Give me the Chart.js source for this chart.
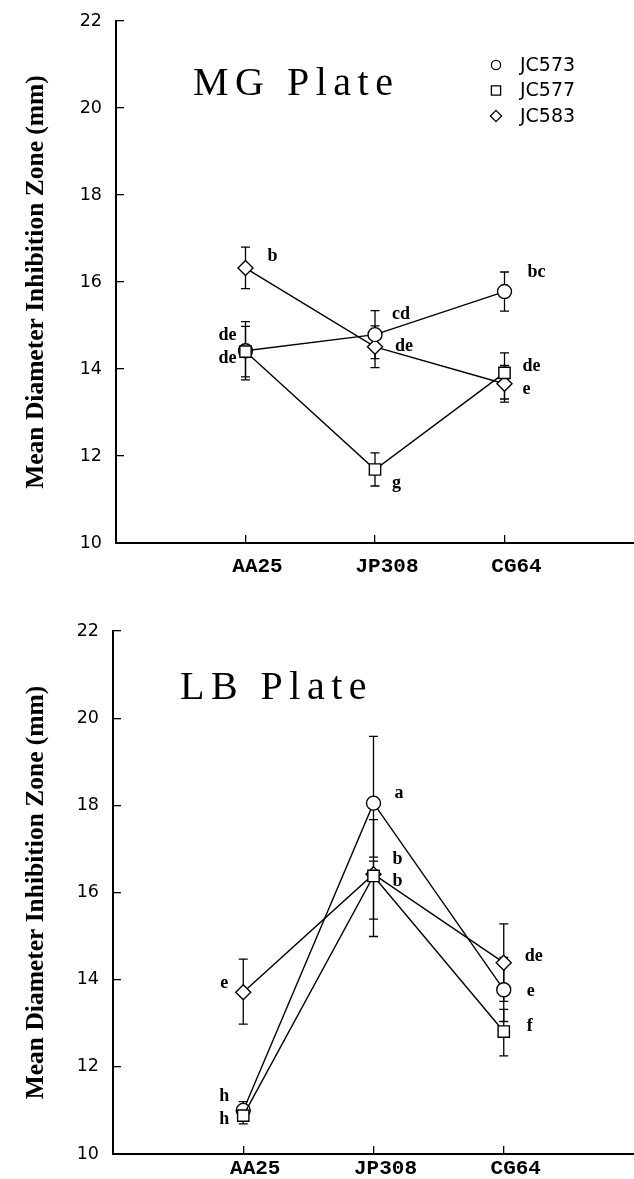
<!DOCTYPE html>
<html>
<head>
<meta charset="utf-8">
<script src="https://cdn.jsdelivr.net/npm/chart.js@4.4.1/dist/chart.umd.min.js"></script>
<style>
  html, body { margin: 0; padding: 0; background: #fff; overflow: hidden; }
  #wrap { position: relative; width: 634px; height: 1179px; overflow: hidden; }
  canvas { position: absolute; left: 0; display: block; }
  #mgChart { top: 0; }
  #lbChart { top: 590px; }
</style>
</head>
<body>
<div id="wrap">
  <canvas id="mgChart" width="634" height="590"></canvas>
  <canvas id="lbChart" width="634" height="589"></canvas>
</div>
<script>
// Categories & ticks
const categories = ['AA25', 'JP308', 'CG64'];
const yTicks = [10, 12, 14, 16, 18, 20, 22];
const strains = ['JC573', 'JC577', 'JC583'];
const yTitle = 'Mean Diameter Inhibition Zone (mm)';

// MG plate - means and error bars (up / down)
const mgJC573 = [14.42, 14.79, 15.78];
const mgJC573Hi = [0.67, 0.55, 0.45];
const mgJC573Lo = [0.67, 0.55, 0.45];
const mgJC577 = [14.40, 11.69, 13.91];
const mgJC577Hi = [0.58, 0.38, 0.46];
const mgJC577Lo = [0.58, 0.38, 0.60];
const mgJC583 = [16.32, 14.51, 13.66];
const mgJC583Hi = [0.48, 0.48, 0.42];
const mgJC583Lo = [0.47, 0.48, 0.42];
const mgLetters = [['de', 'cd', 'bc'], ['de', 'g', 'de'], ['b', 'de', 'e']];

// LB plate - means and error bars (up / down)
const lbJC573 = [11.00, 18.05, 13.77];
const lbJC573Hi = [0.20, 1.53, 0.74];
const lbJC573Lo = [0.20, 1.24, 0.73];
const lbJC577 = [10.88, 16.38, 12.81];
const lbJC577Hi = [0.19, 1.29, 0.51];
const lbJC577Lo = [0.19, 1.39, 0.56];
const lbJC583 = [13.71, 16.42, 14.39];
const lbJC583Hi = [0.76, 0.30, 0.89];
const lbJC583Lo = [0.73, 1.03, 0.89];
const lbLetters = [['h', 'a', 'e'], ['h', 'b', 'f'], ['e', 'b', 'de']];

// marker look per strain
const styles = [
  { pointStyle: 'circle', radius: 7, order: 1 },
  { pointStyle: 'rect', radius: 8, order: 0 },
  { pointStyle: 'rectRot', radius: 7.5, order: 2 }
];

function marker(ctx, style, x, y, r) {
  ctx.beginPath();
  if (style === 'circle') ctx.arc(x, y, r, 0, Math.PI * 2);
  else if (style === 'rect') ctx.rect(x - r, y - r, 2 * r, 2 * r);
  else { ctx.moveTo(x, y - r); ctx.lineTo(x + r, y); ctx.lineTo(x, y + r); ctx.lineTo(x - r, y); ctx.closePath(); }
  ctx.fill();
  ctx.stroke();
}

// scale paddings would push the plot area in; the plot box is fixed here
function noPad(s) {
  s.paddingTop = 0;
  s.paddingBottom = 0;
  s.paddingLeft = 0;
  s.paddingRight = 0;
}

// error bars, significance letters, plate title, legend
function makeOverlay(cfg) {
  return {
    id: 'overlay',
    beforeDatasetsDraw(chart) {
      const { ctx, scales: { x, y } } = chart;
      ctx.save();
      ctx.strokeStyle = '#000';
      ctx.lineWidth = 1.3;
      cfg.series.forEach(s => {
        s.mean.forEach((m, i) => {
          const px = x.getPixelForValue(i + 1);
          const top = y.getPixelForValue(m + s.hi[i]);
          const bot = y.getPixelForValue(m - s.lo[i]);
          ctx.beginPath();
          ctx.moveTo(px, top); ctx.lineTo(px, bot);
          ctx.moveTo(px - 4.5, top); ctx.lineTo(px + 4.5, top);
          ctx.moveTo(px - 4.5, bot); ctx.lineTo(px + 4.5, bot);
          ctx.stroke();
        });
      });
      ctx.restore();
    },
    afterDatasetsDraw(chart) {
      const { ctx, chartArea, scales: { x, y } } = chart;
      ctx.save();
      ctx.fillStyle = '#000';
      ctx.font = 'bold 18px "Liberation Serif"';
      ctx.textBaseline = 'middle';
      cfg.series.forEach((s, si) => {
        s.letters.forEach((txt, i) => {
          const [dx, dy, align] = cfg.letterPos[si][i];
          ctx.textAlign = align;
          ctx.fillText(txt, x.getPixelForValue(i + 1) + dx, y.getPixelForValue(s.mean[i]) + dy);
        });
      });

      // plate title
      ctx.textAlign = 'left';
      ctx.textBaseline = 'alphabetic';
      ctx.font = '40px "Liberation Serif"';
      ctx.letterSpacing = '6.5px';
      ctx.fillText(cfg.title, chartArea.left + cfg.titleAt[0], chartArea.top + cfg.titleAt[1]);
      ctx.letterSpacing = '0px';

      // legend
      if (cfg.legendAt) {
        ctx.font = '19px "DejaVu Sans"';
        ctx.textBaseline = 'middle';
        ctx.lineWidth = 1.3;
        ctx.strokeStyle = '#000';
        const sizes = [4.6, 4.6, 5.6];
        strains.forEach((name, i) => {
          const lx = cfg.legendAt[0];
          const ly = cfg.legendAt[1] + i * 25.5;
          ctx.fillStyle = '#fff';
          marker(ctx, styles[i].pointStyle, lx, ly, sizes[i]);
          ctx.fillStyle = '#000';
          ctx.fillText(name, lx + 24, ly + 1);
        });
      }
      ctx.restore();
    }
  };
}

function buildChart(canvasId, cfg) {
  const datasets = cfg.series.map((s, i) => ({
    label: strains[i],
    data: s.mean.map((v, k) => ({ x: k + 1, y: v })),
    borderColor: '#000',
    borderWidth: 1.4,
    tension: 0,
    order: styles[i].order,
    pointStyle: styles[i].pointStyle,
    pointRadius: styles[i].radius,
    pointBackgroundColor: '#fff',
    pointBorderColor: '#000',
    pointBorderWidth: 1.4
  }));

  return new Chart(document.getElementById(canvasId), {
    type: 'line',
    data: { datasets },
    options: {
      responsive: false,
      animation: false,
      events: [],
      devicePixelRatio: 1,
      layout: { autoPadding: false, padding: { top: cfg.padTop, left: 0, right: 0, bottom: 0 } },
      plugins: { legend: { display: false }, tooltip: { enabled: false } },
      scales: {
        x: {
          type: 'linear',
          min: 0,
          max: 4,
          afterBuildTicks: s => { s.ticks = categories.map((c, i) => ({ value: i + 1 })); },
          afterFit: s => { s.height = cfg.xHeight; noPad(s); },
          ticks: {
            callback: v => categories[v - 1],
            color: '#000',
            font: { family: '"Liberation Mono"', size: 21, weight: 'bold' },
            padding: cfg.xPad,
            labelOffset: 12,
            maxRotation: 0
          },
          grid: { drawOnChartArea: false, drawTicks: true, tickLength: -8, color: '#000', lineWidth: 1.3 },
          border: { display: true, color: '#000', width: 2 }
        },
        y: {
          min: 10,
          max: 22,
          afterBuildTicks: s => { s.ticks = yTicks.map(v => ({ value: v })); },
          afterFit: s => { s.width = cfg.yWidth; noPad(s); },
          ticks: {
            color: '#000',
            font: { family: '"DejaVu Sans"', size: 17.5 },
            padding: 22
          },
          grid: { drawOnChartArea: false, drawTicks: true, tickLength: -8, color: '#000', lineWidth: 1.3 },
          border: { display: true, color: '#000', width: 2 },
          title: {
            display: true,
            text: yTitle,
            color: '#000',
            font: { family: '"Liberation Serif"', size: 25.5, weight: 'bold' },
            padding: { top: 21, bottom: 0 }
          }
        }
      }
    },
    plugins: [makeOverlay(cfg)]
  });
}

buildChart('mgChart', {
  padTop: 21,
  xHeight: 47,
  xPad: 19,
  yWidth: 116,
  title: 'MG Plate',
  titleAt: [77, 74],
  legendAt: [496, 65],
  series: [
    { mean: mgJC573, hi: mgJC573Hi, lo: mgJC573Lo, letters: mgLetters[0] },
    { mean: mgJC577, hi: mgJC577Hi, lo: mgJC577Lo, letters: mgLetters[1] },
    { mean: mgJC583, hi: mgJC583Hi, lo: mgJC583Lo, letters: mgLetters[2] }
  ],
  letterPos: [
    [[-9, -15, 'right'], [17, -20, 'left'], [23, -19, 'left']],
    [[-9, 7, 'right'], [17, 14, 'left'], [18, -7, 'left']],
    [[22, -12, 'left'], [20, 0, 'left'], [18, 6, 'left']]
  ]
});

buildChart('lbChart', {
  padTop: 41,
  xHeight: 25,
  xPad: 10,
  yWidth: 113,
  title: 'LB Plate',
  titleAt: [67, 68],
  legendAt: null,
  series: [
    { mean: lbJC573, hi: lbJC573Hi, lo: lbJC573Lo, letters: lbLetters[0] },
    { mean: lbJC577, hi: lbJC577Hi, lo: lbJC577Lo, letters: lbLetters[1] },
    { mean: lbJC583, hi: lbJC583Hi, lo: lbJC583Lo, letters: lbLetters[2] }
  ],
  letterPos: [
    [[-14, -14, 'right'], [21, -10, 'left'], [23, 2, 'left']],
    [[-14, 4, 'right'], [19, -17, 'left'], [23, -5, 'left']],
    [[-15, -9, 'right'], [19, 7, 'left'], [21, -6, 'left']]
  ]
});
</script>
</body>
</html>
